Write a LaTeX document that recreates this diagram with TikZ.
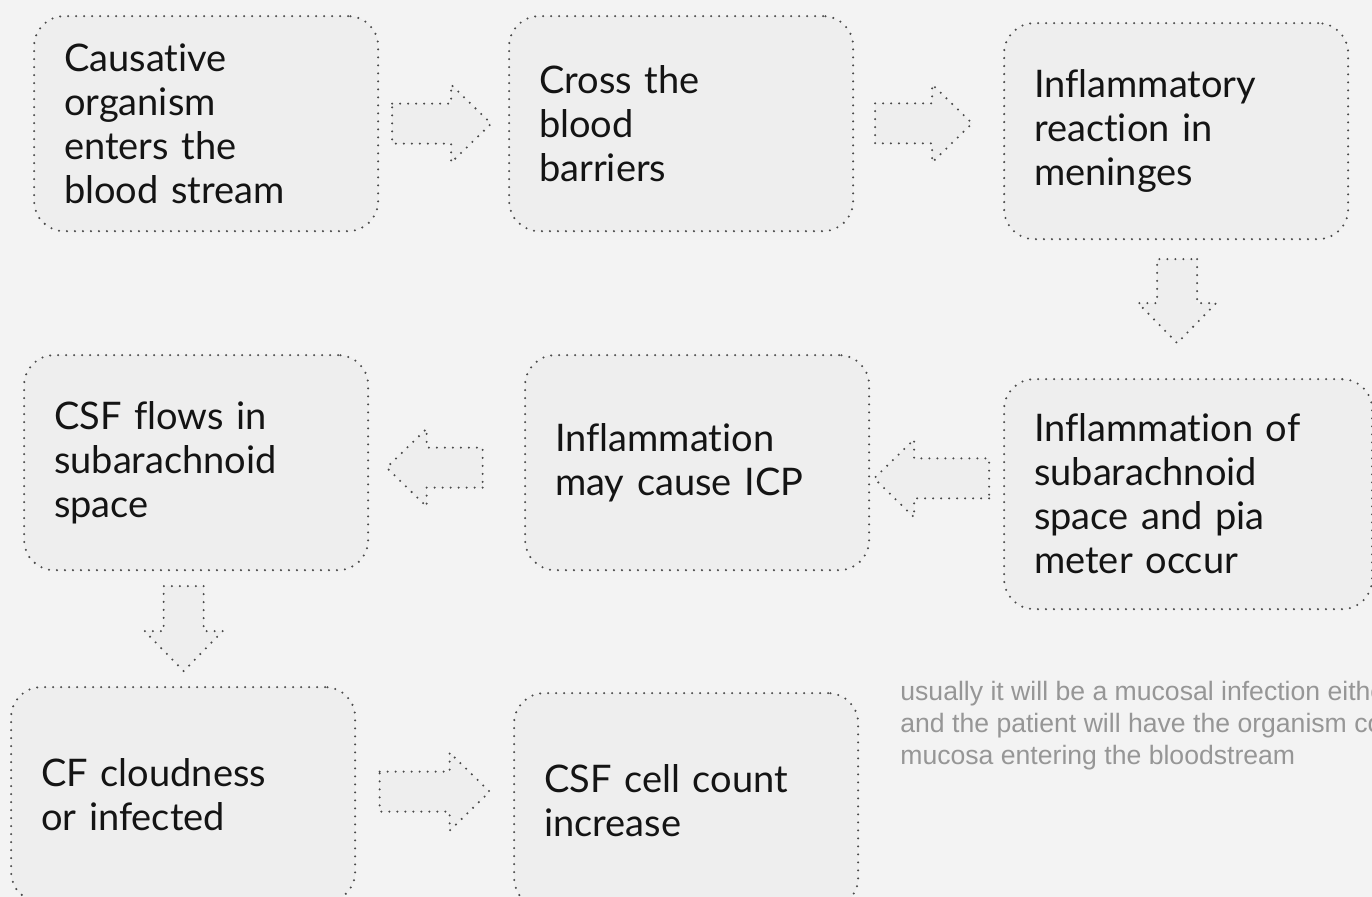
\documentclass[tikz,border=0pt]{standalone}
\usepackage{fontspec}
\newfontfamily\flowfont[Ligatures=NoCommon]{Lato}
\newfontfamily\notefont{Liberation Sans}
\usetikzlibrary{calc}
\definecolor{pagebg}{HTML}{F3F3F3}
\definecolor{boxfill}{HTML}{EEEEEE}
\definecolor{dotline}{HTML}{4A4A4A}
\definecolor{notegrey}{HTML}{969696}
\tikzset{
  dots/.style={draw=dotline, line width=1.15pt, dash pattern=on 0pt off 4pt, line cap=round},
  stepbox/.style={dots, fill=boxfill, rounded corners=15pt, anchor=north west,
    minimum width=172pt, minimum height=107.5pt, text width=142pt, inner xsep=15pt,
    align=left, text=black!92, font=\flowfont\fontsize{19}{22}\selectfont},
  remark/.style={anchor=north west, inner sep=0pt, align=left, text=notegrey,
    font=\notefont\fontsize{13.3}{16}\selectfont},
  pics/blockarrow/.style={code={
    \draw[dots, fill=boxfill] (-#1/2,-20) -- (#1/2-40,-20) -- (#1/2-40,-39) -- (#1/2,0)
      -- (#1/2-40,39) -- (#1/2-40,20) -- (-#1/2,20) -- cycle;
  }}
}
\begin{document}
\begin{tikzpicture}[x=0.5pt, y=-0.5pt]
  \fill[pagebg] (0,0) rectangle (1372,897);
  \useasboundingbox (0,0) rectangle (1372,897);

  % steps
  \node[stepbox] (organism) at (33,15) {Causative\\organism\\enters the\\blood stream};
  \node[stepbox, minimum width=171pt] (cross) at (508,15) {Cross the\\blood\\barriers};
  \node[stepbox, minimum height=108pt] (meninges) at (1003,22) {Inflammatory\\reaction in\\meninges};
  \node[stepbox, minimum width=184pt, text width=154pt, minimum height=115pt] (pia) at (1003,378)
    {Inflammation of\\subarachnoid\\space and pia\\meter occur};
  \node[stepbox] (icp) at (524,354) {Inflammation\\may cause ICP};
  \node[stepbox] (csf) at (23,354) {CSF flows in\\subarachnoid\\space};
  \node[stepbox] (cloud) at (10,686) {CF cloudness\\or infected};
  \node[stepbox] (count) at (513,692) {CSF cell count\\increase};

  % block arrows
  \pic at ($(organism.east)!0.5!(cross.west)+(-2,0)$) {blockarrow=99};
  \pic at ($(cross.east)!0.5!(meninges.west)+(-5,-4)$) {blockarrow=97};
  \pic[rotate=-90] at ($(meninges.south)!0.5!(pia.north)+(-5,-8)$) {blockarrow=84};
  \pic[rotate=180] at ($(pia.west)!0.5!(icp.east)+(-5,0)$) {blockarrow=115};
  \pic[rotate=180] at ($(icp.west)!0.5!(csf.east)+(-12,5)$) {blockarrow=96};
  \pic[rotate=-90] at ($(csf.south)!0.5!(cloud.north)+(-6,0)$) {blockarrow=85};
  \pic at ($(cloud.east)!0.5!(count.west)+(0,-6)$) {blockarrow=110};

  \node[remark] (note) at (900,681) {usually it will be a mucosal infection either\\
    and the patient will have the organism colonizing the\\mucosa entering the bloodstream};
\end{tikzpicture}
\end{document}
